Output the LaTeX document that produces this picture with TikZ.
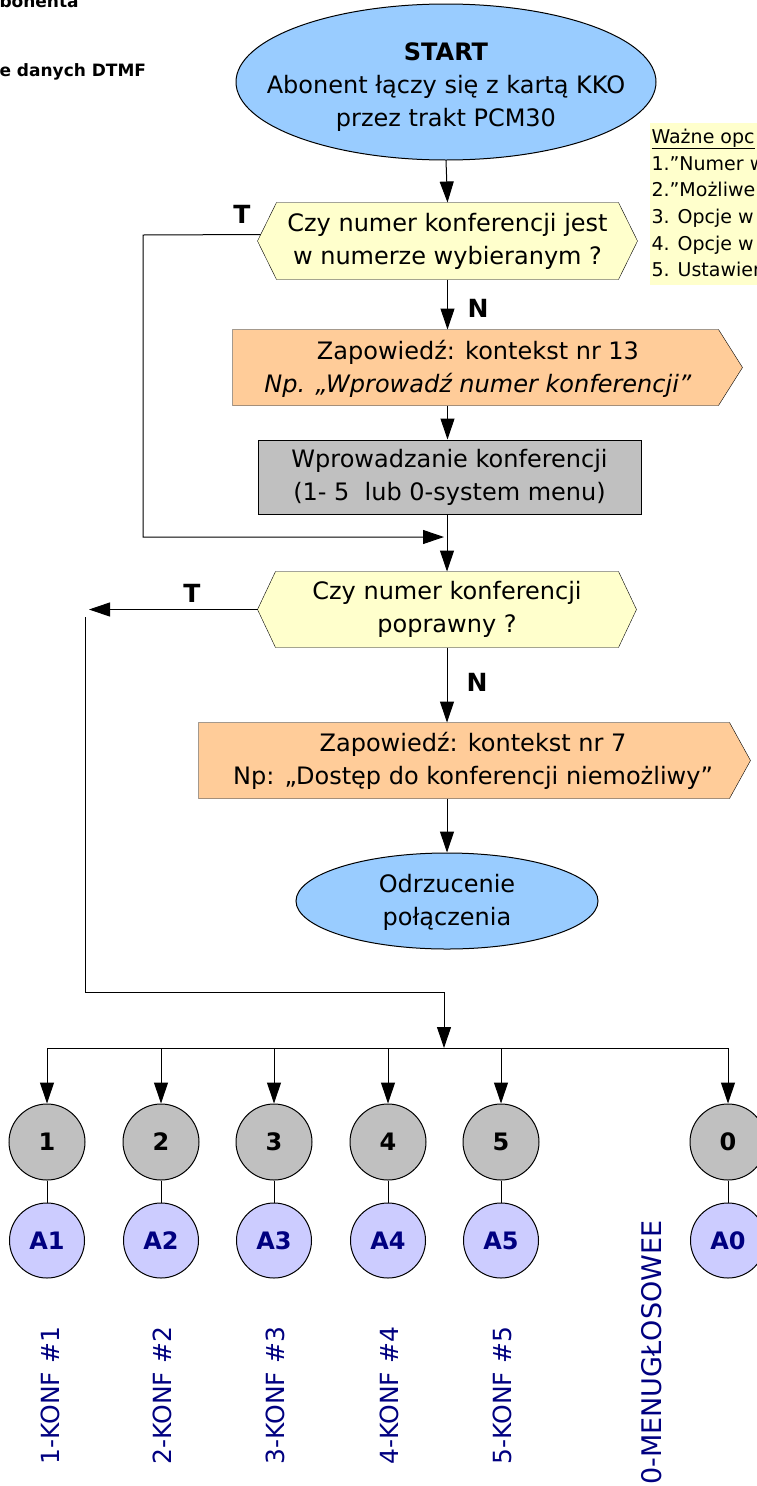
\documentclass[tikz,border=0pt]{standalone}
\usepackage{fontspec}
\setmainfont{DejaVu Sans}
\usetikzlibrary{arrows.meta,backgrounds,shapes.geometric}
\definecolor{qyellow}{HTML}{FFFFCC}
\definecolor{annorange}{HTML}{FFCC99}
\definecolor{gbox}{HTML}{C0C0C0}
\definecolor{sblue}{HTML}{99CCFF}
\definecolor{lav}{HTML}{CCCCFF}
\definecolor{navyblue}{HTML}{000080}
\begin{document}
\begin{tikzpicture}[x=1pt,y=-1pt,
  line width=1pt,
  arr/.style={-{Triangle[length=21pt,width=14pt]}},
  txt/.style={font=\fontsize{24}{33}\selectfont, align=center, inner sep=0pt},
  lbl/.style={font=\fontsize{25}{28}\selectfont\bfseries, inner sep=0pt},
  shapebox/.style={inner sep=0pt, draw=none},
  hexfill/.style={draw, fill=qyellow},
  annfill/.style={draw, fill=annorange},
  numcirc/.style={circle, draw, fill=gbox, minimum size=76pt, inner sep=0pt, font=\fontsize{24}{28}\selectfont\bfseries},
  acirc/.style={circle, draw, fill=lav, minimum size=75pt, inner sep=0pt, text=navyblue, font=\fontsize{24}{28}\selectfont\bfseries},
  rotlbl/.style={rotate=90, anchor=west, inner sep=0pt, text=navyblue, font=\fontsize{25}{28}\selectfont},
  frag/.style={anchor=base west, inner sep=0pt, font=\fontsize{17}{19}\selectfont\bfseries},
  notetxt/.style={anchor=base west, inner sep=0pt, font=\fontsize{19}{22}\selectfont}
]
\useasboundingbox (0,0) rectangle (757,1486);

% fragments at the top left
\node[frag] (f1) at (-1,7) {bonenta};
\node[frag] (f2) at (-1,76) {e danych DTMF};

% note at the top right
\fill[qyellow] (650,123) rectangle (770,285);
\node[notetxt] (nh) at (651,143) {\underline{Ważne opc}};
\node[notetxt] (n1) at (651,170) {1.”Numer w};
\node[notetxt] (n2) at (651,196) {2.”Możliwe};
\node[notetxt] (n3) at (651,223) {3. Opcje w};
\node[notetxt] (n4) at (651,250) {4. Opcje w};
\node[notetxt] (n5) at (651,276) {5. Ustawien};

% START
\node[ellipse, draw, fill=sblue, minimum width=420pt, minimum height=156pt, inner sep=0pt] (start) at (446,82) {};
\node[txt] (startt) at (446,87) {\textbf{START}\\Abonent łączy się z kartą KKO\\przez trakt PCM30};

% question 1
\node[shapebox, txt, minimum width=379pt, minimum height=76pt] (q1) at (447.5,241) {Czy numer konferencji jest\\w numerze wybieranym ?};

% announcement 1
\node[shapebox, minimum width=509pt, minimum height=75pt] (p1) at (487.5,367.5) {};
\node[txt] (p1t) at (478,369) {Zapowiedź: kontekst nr 13\\\textit{Np. „Wprowadź numer konferencji”}};

% input box
\node[draw, fill=gbox, txt, minimum width=383pt, minimum height=74pt] (g1) at (449.5,477) {Wprowadzanie konferencji\\(1- 5\ \ lub 0-system menu)};

% question 2
\node[shapebox, txt, minimum width=378pt, minimum height=75pt] (q2) at (447,609.5) {Czy numer konferencji\\poprawny ?};

% announcement 2
\node[shapebox, minimum width=551pt, minimum height=75pt] (p2) at (474.5,760.5) {};
\node[txt] (p2t) at (473,761) {Zapowiedź: kontekst nr 7\\Np: „Dostęp do konferencji niemożliwy”};

% rejection
\node[ellipse, draw, fill=sblue, minimum width=302pt, minimum height=96pt, inner sep=0pt] (rej) at (447,901) {};
\node[txt] (rejt) at (447,902) {Odrzucenie\\połączenia};

\begin{scope}[on background layer]
\draw[hexfill] ([xshift=19pt]q1.north west) -- ([xshift=-19pt]q1.north east) -- (q1.east)
  -- ([xshift=-19pt]q1.south east) -- ([xshift=19pt]q1.south west) -- (q1.west) -- cycle;
\draw[hexfill] ([xshift=18pt]q2.north west) -- ([xshift=-18pt]q2.north east) -- (q2.east)
  -- ([xshift=-18pt]q2.south east) -- ([xshift=18pt]q2.south west) -- (q2.west) -- cycle;
\draw[annfill] (p1.north west) -- ([xshift=-24pt]p1.north east) -- (p1.east)
  -- ([xshift=-24pt]p1.south east) -- (p1.south west) -- cycle;
\draw[annfill] (p2.north west) -- ([xshift=-21pt]p2.north east) -- (p2.east)
  -- ([xshift=-21pt]p2.south east) -- (p2.south west) -- cycle;
\end{scope}

% labels
\node[lbl] (t1) at (242,214) {T};
\node[lbl] (nl1) at (478,308) {N};
\node[lbl] (t2) at (192,593) {T};
\node[lbl] (nl2) at (477,682) {N};

% coordinates
\coordinate (c1) at (143,235);
\coordinate (c2) at (143,537);
\coordinate (m1) at (444,537);
\coordinate (t2tip) at (89,609.5);
\coordinate (v0) at (85,617);
\coordinate (v1) at (85,992);
\coordinate (barc) at (444,1048);

% main connectors
\draw[arr] (start.south) -- (q1.north);
\draw[arr] (q1.south) -- (q1.south |- p1.north);
\draw[arr] (q1.south |- p1.south) -- (q1.south |- g1.north);
\draw[arr] (q2.north |- g1.south) -- (q2.north);
\draw[arr] ([xshift=3pt,yshift=6.5pt]q1.west) -- (c1) -- (c2) -- (m1);
\draw[arr] (q2.west) -- (t2tip);
\draw[arr] (q2.south) -- (q2.south |- p2.north);
\draw[arr] (rej.north |- p2.south) -- (rej.north);
\draw[arr] (v0) -- (v1) -| (barc);

% bottom circles
\node[numcirc] (b1) at (47,1142) {1};
\node[numcirc] (b2) at (161,1142) {2};
\node[numcirc] (b3) at (274,1142) {3};
\node[numcirc] (b4) at (388,1142) {4};
\node[numcirc] (b5) at (501,1142) {5};
\node[numcirc] (b0) at (728,1142) {0};
\node[acirc] (a1) at (47,1240.5) {A1};
\node[acirc] (a2) at (161,1240.5) {A2};
\node[acirc] (a3) at (274,1240.5) {A3};
\node[acirc] (a4) at (388,1240.5) {A4};
\node[acirc] (a5) at (501,1240.5) {A5};
\node[acirc] (a0) at (728,1240.5) {A0};

\draw (b1.north |- barc) -- (b0.north |- barc);
\foreach \n in {1,2,3,4,5,0}{
  \draw[arr] (b\n.north |- barc) -- (b\n.north);
  \draw (b\n.south) -- (a\n.north);
}

% rotated labels
\node[rotlbl] (k1) at (50,1465) {1-KONF \#1};
\node[rotlbl] (k2) at (162,1465) {2-KONF \#2};
\node[rotlbl] (k3) at (275,1465) {3-KONF \#3};
\node[rotlbl] (k4) at (389,1465) {4-KONF \#4};
\node[rotlbl] (k5) at (502,1465) {5-KONF \#5};
\node[rotlbl, font=\fontsize{27}{30}\selectfont] (k0) at (652,1485) {0-MENUGŁOSOWEE};
\end{tikzpicture}
\end{document}
